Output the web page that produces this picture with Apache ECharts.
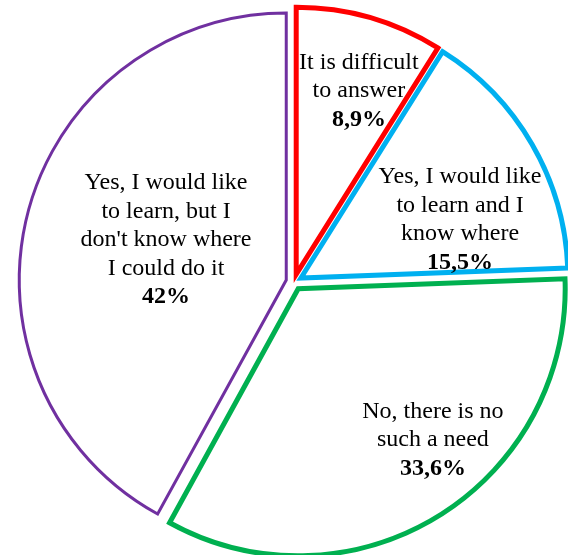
<!DOCTYPE html>
<html>
<head>
<meta charset="utf-8">
<script src="https://cdn.jsdelivr.net/npm/echarts@6/dist/echarts.min.js"></script>
<style>
html,body{margin:0;padding:0;background:#fff;}
#chart{width:568px;height:555px;}
</style>
</head>
<body>
<div id="chart"></div>
<script>
// Data
const categories = [
  "It is difficult\nto answer",
  "Yes, I would like\nto learn and I\nknow where",
  "No, there is no\nsuch a need",
  "Yes, I would like\nto learn, but I\ndon't know where\nI could do it"
];
const values = [8.9, 15.5, 33.6, 42];

// Styles
const borderColors = ["#FF0000", "#00B0F0", "#00B050", "#7030A0"];
const borderWidths = [5, 5, 5, 3];
const labelShift = [[25, -52], [41, 10], [63, 35], [12, -6]];

const chart = echarts.init(document.getElementById('chart'), null, {renderer: 'canvas'});

function fmtVal(v) { return String(v).replace('.', ',') + '%'; }

const data = categories.map((name, i) => {
  const st = {color: '#ffffff', borderColor: borderColors[i], borderWidth: borderWidths[i], borderJoin: 'miter'};
  return {
    name: name,
    value: values[i],
    selected: true,
    itemStyle: st,
    select: {itemStyle: st, label: {show: true}},
    emphasis: {itemStyle: st}
  };
});

chart.setOption({
  animation: false,
  backgroundColor: '#ffffff',
  series: [{
    type: 'pie',
    center: [294, 282],
    radius: [0, 267],
    startAngle: 90,
    clockwise: true,
    selectedMode: 'multiple',
    selectedOffset: 8,
    avoidLabelOverlap: false,
    emphasis: {disabled: true},
    label: {
      show: true,
      position: 'inside',
      formatter: function (p) {
        const lines = p.name.split('\n').map(l => '{n|' + l + '}');
        return lines.join('\n') + '\n{b|' + fmtVal(p.value) + '}';
      },
      rich: {
        n: {fontFamily: 'Liberation Serif', fontSize: 24, lineHeight: 28.5, color: '#000', align: 'center'},
        b: {fontFamily: 'Liberation Serif', fontSize: 24, lineHeight: 28.5, color: '#000', fontWeight: 'bold', align: 'center'}
      }
    },
    labelLine: {show: false},
    labelLayout: function (p) {
      const s = labelShift[p.dataIndex];
      return {dx: s[0], dy: s[1]};
    },
    data: data
  }]
});
</script>
</body>
</html>
